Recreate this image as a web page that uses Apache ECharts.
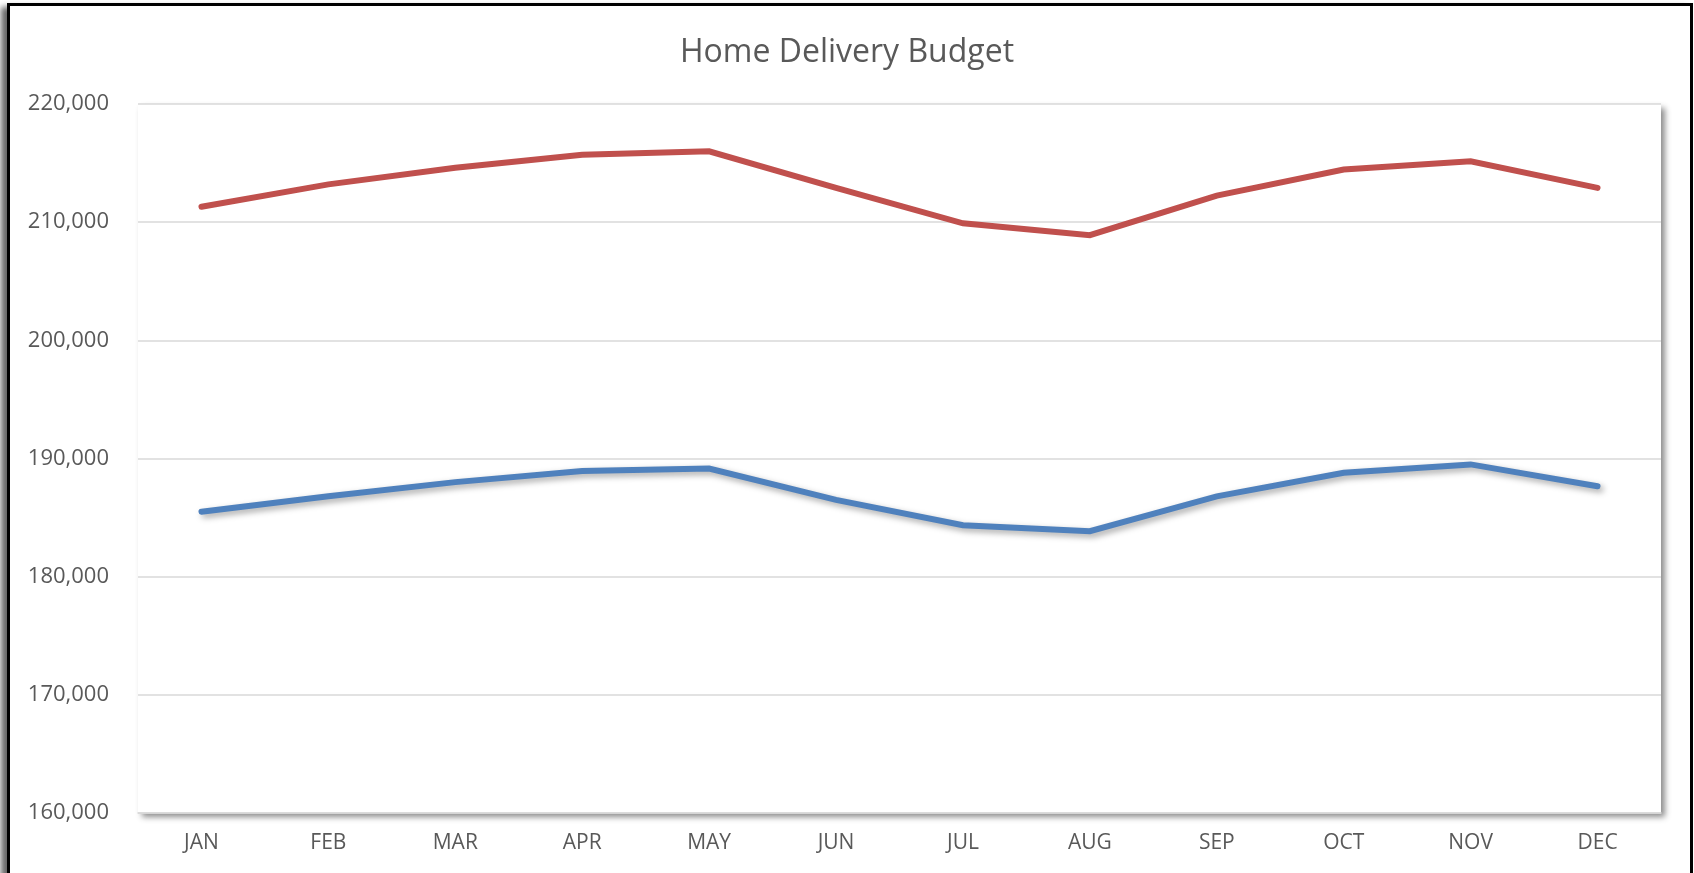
<!DOCTYPE html>
<html>
<head>
<meta charset="utf-8">
<title>Home Delivery Budget</title>
<script src="https://cdn.jsdelivr.net/npm/echarts@6/dist/echarts.min.js"></script>
<style>
  html, body { margin: 0; padding: 0; background: #fff; }
  #wrap { position: relative; width: 1694px; height: 873px; overflow: hidden; }
  #chart { position: absolute; left: 0; top: 0; width: 1694px; height: 873px; }
  .frame {
    position: absolute; left: 7px; top: 3px; width: 1680px; height: 900px;
    border: 3px solid #000; box-shadow: -6px 4px 6px rgba(0,0,0,0.6);
    pointer-events: none;
  }
</style>
</head>
<body>
<div id="wrap">
  <div id="chart"></div>
  <div class="frame"></div>
</div>
<script>
var months = ['JAN', 'FEB', 'MAR', 'APR', 'MAY', 'JUN', 'JUL', 'AUG', 'SEP', 'OCT', 'NOV', 'DEC'];
var budgetHigh = [211300, 213200, 214600, 215700, 216000, 212900, 209900, 208900, 212250, 214450, 215150, 212900];
var budgetLow = [185500, 186800, 188000, 188950, 189150, 186500, 184350, 183850, 186800, 188800, 189500, 187650];
var yTicks = [160000, 170000, 180000, 190000, 200000, 210000, 220000];

var chart = echarts.init(document.getElementById('chart'));

var option = {
  backgroundColor: '#fff',
  animation: false,
  title: {
    text: 'Home Delivery Budget',
    left: 'center',
    top: 32,
    textStyle: {
      fontFamily: 'Open Sans',
      fontSize: 32,
      fontWeight: 'normal',
      color: '#595959'
    }
  },
  grid: {
    left: 138,
    right: 33,
    top: 104,
    bottom: 60,
    containLabel: false,
    show: true,
    backgroundColor: '#fff',
    borderWidth: 0,
    shadowColor: 'rgba(0,0,0,0.45)',
    shadowBlur: 6,
    shadowOffsetX: 4,
    shadowOffsetY: 4
  },
  xAxis: {
    type: 'category',
    data: months,
    boundaryGap: true,
    axisLine: { show: true, lineStyle: { color: '#d9d9d9', width: 1.5 } },
    axisTick: { show: false },
    axisLabel: {
      margin: 20,
      fontFamily: 'Open Sans',
      fontSize: 21,
      color: '#595959'
    }
  },
  yAxis: {
    type: 'value',
    min: yTicks[0],
    max: yTicks[yTicks.length - 1],
    interval: yTicks[1] - yTicks[0],
    axisLine: { show: false },
    axisTick: { show: false },
    splitLine: { lineStyle: { color: '#d9d9d9', width: 1.5 } },
    axisLabel: {
      margin: 29,
      fontFamily: 'Open Sans',
      fontSize: 22,
      color: '#595959',
      formatter: function (v) { return v.toLocaleString('en-US'); }
    }
  },
  series: [
    {
      name: 'Budget',
      type: 'line',
      data: budgetHigh,
      symbol: 'none',
      lineStyle: { color: '#C0504D', width: 6, cap: 'round', join: 'miter' }
    },
    {
      name: 'Actual',
      type: 'line',
      data: budgetLow,
      symbol: 'none',
      lineStyle: {
        color: '#4F81BD', width: 6, cap: 'round', join: 'miter',
        shadowColor: 'rgba(0,0,0,0.35)', shadowBlur: 6, shadowOffsetX: 3, shadowOffsetY: 3
      }
    }
  ]
};

chart.setOption(option);
</script>
</body>
</html>
